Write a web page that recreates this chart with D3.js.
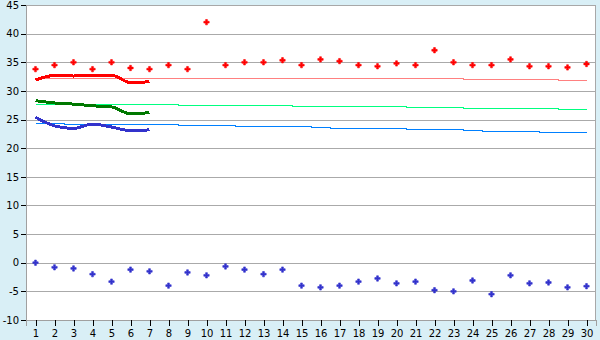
<!DOCTYPE html>
<html>
<head>
<meta charset="utf-8">
<script src="https://cdn.jsdelivr.net/npm/d3@7"></script>
<style>
  body { margin: 0; background: #d9eff6; }
  svg { display: block; }
  text { font-family: "DejaVu Sans", Verdana, sans-serif; font-size: 10px; fill: #000; }
</style>
</head>
<body>
<div id="chart"></div>
<script>
// days of the month
var days = d3.range(1, 31);
var yTicks = [-10, -5, 0, 5, 10, 15, 20, 25, 30, 35, 40, 45];

// daily max (red crosses) and daily delta (blue crosses)
var maxPoints = [33.8, 34.5, 35.0, 33.8, 35.0, 34.0, 33.8, 34.5, 33.8, 42.0,
                 34.5, 35.0, 35.0, 35.35, 34.5, 35.5, 35.2, 34.5, 34.3, 34.8,
                 34.5, 37.1, 35.0, 34.5, 34.5, 35.5, 34.3, 34.3, 34.1, 34.7];
var diffPoints = [0.0, -0.8, -1.0, -2.0, -3.3, -1.2, -1.5, -4.0, -1.7, -2.2,
                  -0.65, -1.2, -2.0, -1.2, -4.0, -4.3, -4.0, -3.3, -2.75, -3.6,
                  -3.3, -4.8, -5.0, -3.1, -5.5, -2.2, -3.6, -3.45, -4.3, -4.1];

// normals (thin lines)
var normHigh = [32.2, 32.2, 32.2, 32.2, 32.2, 32.2, 32.2, 32.2, 32.2, 32.2,
                32.2, 32.2, 32.2, 32.2, 32.2, 32.2, 32.2, 32.2, 32.2, 32.2,
                32.2, 32.2, 32.2, 32.05, 32.05, 32.05, 32.05, 32.05, 31.9, 31.9];
var normMean = [27.7, 27.7, 27.7, 27.7, 27.7, 27.7, 27.7, 27.7, 27.5, 27.5,
                27.5, 27.5, 27.5, 27.5, 27.35, 27.35, 27.35, 27.35, 27.35, 27.35,
                27.15, 27.15, 27.15, 27.0, 27.0, 27.0, 27.0, 27.0, 26.8, 26.8];
var normLow = [24.45, 24.45, 24.25, 24.25, 24.25, 24.25, 24.25, 24.25, 24.05, 24.05,
               24.05, 23.85, 23.85, 23.85, 23.85, 23.7, 23.5, 23.5, 23.5, 23.5,
               23.35, 23.35, 23.35, 23.15, 23.0, 23.0, 23.0, 22.8, 22.8, 22.8];

// running averages (thick lines), first week only
var runHigh = [31.9, 32.7, 32.6, 32.75, 32.75, 31.45, 31.6];
var runMean = [28.3, 27.9, 27.7, 27.4, 27.2, 26.0, 26.2];
var runLow = [25.4, 23.9, 23.45, 24.2, 23.7, 23.05, 23.2];

var width = 600, height = 340;
var margin = {top: 5, right: 4, bottom: 20, left: 26};

var svg = d3.select('#chart').append('svg')
    .attr('width', width)
    .attr('height', height);

var x = d3.scalePoint().domain(days)
    .range([margin.left, width - margin.right]).padding(0.5);
var y = d3.scaleLinear().domain([-10, 45])
    .range([height - margin.bottom, margin.top]);

// plot background
svg.append('rect')
    .attr('x', margin.left).attr('y', margin.top)
    .attr('width', width - margin.left - margin.right)
    .attr('height', height - margin.top - margin.bottom)
    .attr('fill', '#fff');

// grid
svg.append('g').selectAll('line').data(yTicks.slice(1, -1)).enter().append('line')
    .attr('x1', margin.left).attr('x2', width - margin.right)
    .attr('y1', function (d) { return Math.round(y(d)) + 0.5; })
    .attr('y2', function (d) { return Math.round(y(d)) + 0.5; })
    .attr('stroke', '#aaa')
    .attr('shape-rendering', 'crispEdges');

// top and right border
svg.append('path')
    .attr('d', 'M' + margin.left + ',' + (margin.top + 0.5) + 'H' + (width - margin.right - 0.5) +
        'V' + (height - margin.bottom))
    .attr('fill', 'none').attr('stroke', '#a8a8a8')
    .attr('shape-rendering', 'crispEdges');

var yAxis = svg.append('g')
    .attr('transform', 'translate(' + margin.left + ',0)')
    .call(d3.axisLeft(y).tickValues(yTicks).tickSize(5).tickPadding(2)
        .tickFormat(function (d) { return d < 0 ? '-' + Math.abs(d) : d; }));
var xAxis = svg.append('g')
    .attr('transform', 'translate(0,' + (height - margin.bottom) + ')')
    .call(d3.axisBottom(x).tickSize(6).tickPadding(4));

[yAxis, xAxis].forEach(function (ax) {
    ax.select('.domain').attr('stroke', '#a0a0a0').attr('shape-rendering', 'crispEdges');
    ax.selectAll('.tick line').attr('stroke', '#000').attr('shape-rendering', 'crispEdges');
    ax.selectAll('text').attr('font-family', '"DejaVu Sans", Verdana, sans-serif')
        .attr('font-size', 10).attr('fill', '#000');
});

// thin step lines
var stepLine = d3.line()
    .x(function (d, i) { return x(days[i]); })
    .y(function (d) { return Math.round(y(d)) + 0.5; })
    .curve(d3.curveStep);
[[normHigh, '#ff8080'], [normMean, '#00ff80'], [normLow, '#0080ff']].forEach(function (s) {
    svg.append('path').datum(s[0])
        .attr('d', stepLine)
        .attr('fill', 'none').attr('stroke', s[1]).attr('stroke-width', 1)
        .attr('shape-rendering', 'crispEdges');
});

// thick curves
var smoothLine = d3.line()
    .x(function (d, i) { return x(days[i]); })
    .y(function (d) { return y(d); })
    .curve(d3.curveMonotoneX);
[[runHigh, '#ff0000'], [runMean, '#007800'], [runLow, '#3333cc']].forEach(function (s) {
    svg.append('path').datum(s[0])
        .attr('d', smoothLine)
        .attr('fill', 'none').attr('stroke', s[1]).attr('stroke-width', 3)
        .attr('shape-rendering', 'crispEdges');
});

// cross markers
var cross = d3.symbol().type(d3.symbolCross).size(16);
[[maxPoints, '#ff0000'], [diffPoints, '#3333cc']].forEach(function (s) {
    svg.append('g').selectAll('path').data(s[0]).enter().append('path')
        .attr('d', cross)
        .attr('transform', function (d, i) { return 'translate(' + x(days[i]) + ',' + y(d) + ')'; })
        .attr('fill', s[1]).attr('stroke', s[1]).attr('stroke-width', 0.6);
});
</script>
</body>
</html>
